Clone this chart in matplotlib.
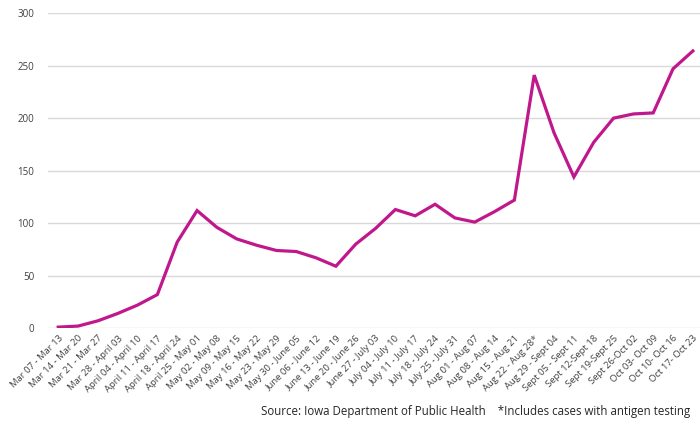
import matplotlib.pyplot as plt

# weekly ranges (x axis)
weeks = [
    "Mar 07 - Mar 13", "Mar 14 - Mar 20", "Mar 21 - Mar 27", "Mar 28 - April 03",
    "April 04 - April 10", "April 11 - April 17", "April 18 - April 24",
    "April 25 - May 01", "May 02 - May 08", "May 09 - May 15", "May 16 - May 22",
    "May 23 - May 29", "May 30 - June 05", "June 06 - June 12", "June 13 - June 19",
    "June 20 - June 26", "June 27 - July 03", "July 04 - July 10", "July 11 - July 17",
    "July 18 - July 24", "July 25 - July 31", "Aug 01 - Aug 07", "Aug 08 - Aug 14",
    "Aug 15 - Aug 21", "Aug 22 - Aug 28*", "Aug 29 - Sept 04", "Sept 05 - Sept 11",
    "Sept 12-Sept 18", "Sept 19-Sept 25", "Sept 26-Oct 02", "Oct 03- Oct 09",
    "Oct 10- Oct 16", "Oct 17- Oct 23",
]

cases = [1, 2, 7, 14, 22, 32, 82, 112, 96, 85, 79, 74, 73, 67, 59, 80, 95,
         113, 107, 118, 105, 101, 111, 122, 241, 186, 144, 177, 200, 204, 205,
         247, 264]

y_ticks = [0, 50, 100, 150, 200, 250, 300]

plt.rcParams['font.family'] = ['Open Sans', 'DejaVu Sans']

fig = plt.figure(figsize=(7, 4.24), dpi=100)
ax = fig.add_axes([0.069, 0.226, 0.935, 0.743])

x = range(len(weeks))
ax.plot(x, cases, color="#C0188C", linewidth=2.3, solid_joinstyle="miter")

ax.set_xlim(-0.5, len(weeks) - 0.5)
ax.set_ylim(0, 300)
ax.set_yticks(y_ticks)
ax.set_xticks(list(x))
ax.set_xticklabels(weeks, rotation=45, ha="right", rotation_mode="anchor",
                   fontsize=6.8, color="#404040")
ax.tick_params(axis="y", labelsize=7, colors="#404040", length=0, pad=10)
ax.tick_params(axis="x", length=0, pad=4)

ax.grid(axis="y", color="#D9D9D9", linewidth=1)
ax.set_axisbelow(True)
for s in ax.spines.values():
    s.set_visible(False)

fig.text(0.986, 0.03,
         "Source: Iowa Department of Public Health    *Includes cases with antigen testing",
         ha="right", va="center", fontsize=8.3, color="#262626")

plt.savefig("out.png", dpi=100)
